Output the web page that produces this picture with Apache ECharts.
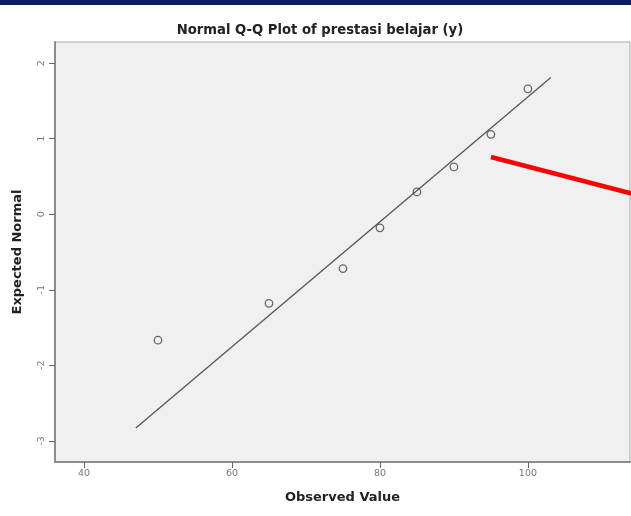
<!DOCTYPE html>
<html><head><meta charset="utf-8">
<script src="https://cdn.jsdelivr.net/npm/echarts@6/dist/echarts.min.js"></script>
<style>html,body{margin:0;padding:0;background:#fff}#c{width:631px;height:516px}</style>
</head><body><div id="c"></div>
<script>
var observed = [50, 65, 75, 80, 85, 90, 95, 100];
var expectedNormal = [-1.667, -1.18, -0.72, -0.18, 0.295, 0.626, 1.058, 1.66];
var refLineX = [47.0, 103.1];
var refLineY = [-2.83, 1.81];
var arrowX = [95.0, 114.2];
var arrowY = [0.758, 0.27];
var xTicks = [40, 60, 80, 100];
var yTicks = [-3, -2, -1, 0, 1, 2];

var chart = echarts.init(document.getElementById('c'));
chart.setOption({
  animation: false,
  backgroundColor: '#ffffff',
  title: {
    text: 'Normal Q-Q Plot of prestasi belajar (y)',
    left: 315, top: 19, textAlign: 'center',
    textStyle: {fontFamily: 'DejaVu Sans', fontSize: 13.2, fontWeight: 'bold', color: '#222'}
  },
  graphic: [{type: 'rect', left: 0, top: 0, shape: {width: 631, height: 5}, style: {fill: '#0b1f5e'}}],
  grid: {left: 55, top: 42, right: 1, bottom: 54, show: true, backgroundColor: '#f0f0f0', borderColor: '#a8a8a8', borderWidth: 1},
  xAxis: {
    type: 'value', min: 36.08, max: 113.8,
    name: 'Observed Value', nameLocation: 'middle', nameGap: 29,
    nameTextStyle: {fontFamily: 'DejaVu Sans', fontSize: 13, fontWeight: 'bold', color: '#222'},
    axisLine: {show: true, onZero: false, lineStyle: {color: '#8c8c8c', width: 2}},
    axisTick: {show: true, customValues: xTicks, length: 6, lineStyle: {color: '#666'}},
    axisLabel: {customValues: xTicks, fontFamily: 'DejaVu Sans', fontSize: 9.5, color: '#777', margin: 7},
    splitLine: {show: false}
  },
  yAxis: {
    type: 'value', min: -3.28, max: 2.28,
    name: 'Expected Normal', nameLocation: 'middle', nameGap: 31,
    nameTextStyle: {fontFamily: 'DejaVu Sans', fontSize: 13, fontWeight: 'bold', color: '#222'},
    axisLine: {show: true, onZero: false, lineStyle: {color: '#8c8c8c', width: 2}},
    axisTick: {show: true, customValues: yTicks, length: 6, lineStyle: {color: '#666'}},
    axisLabel: {customValues: yTicks, rotate: 90, fontFamily: 'DejaVu Sans', fontSize: 9.5, color: '#777', margin: 8},
    splitLine: {show: false}
  },
  series: [
    {type: 'line', data: refLineX.map(function(x, i){return [x, refLineY[i]];}), symbol: 'none',
     lineStyle: {color: '#555', width: 1.3}, silent: true, z: 2},
    {type: 'scatter', data: observed.map(function(x, i){return [x, expectedNormal[i]];}), symbol: 'circle', symbolSize: 7.5,
     itemStyle: {color: 'rgba(0,0,0,0)', borderColor: '#444', borderWidth: 1.3}, z: 3},
    {type: 'line', data: arrowX.map(function(x, i){return [x, arrowY[i]];}), symbol: 'none',
     lineStyle: {color: '#ff0000', width: 4.5}, silent: true, z: 4, clip: false}
  ]
});
</script></body></html>
